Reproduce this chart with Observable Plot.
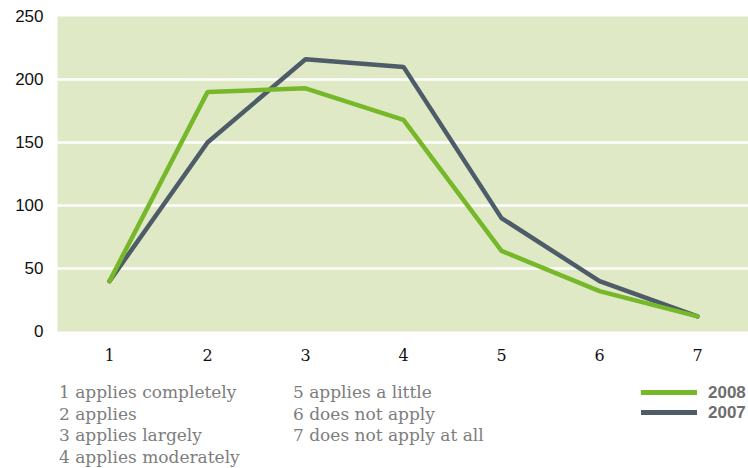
<!DOCTYPE html>
<html>
<head>
<meta charset="utf-8">
<script src="https://cdn.jsdelivr.net/npm/d3@7"></script>
<script src="https://cdn.jsdelivr.net/npm/@observablehq/plot@0.6"></script>
<style>
  html, body { margin: 0; padding: 0; background: #fff; }
  #wrap { position: relative; width: 748px; height: 468px; overflow: hidden; font-family: "DejaVu Serif", serif; }
  #chart svg { display: block; }
  .col { position: absolute; top: 382px; color: #7d7d7d; font-size: 17px; line-height: 21.6px; white-space: nowrap; }
  .leg { position: absolute; left: 641px; color: #6e6e6e; font-weight: bold; font-size: 17px; font-family: "Liberation Sans", Arial, sans-serif; white-space: nowrap; line-height: 20px; }
  .leg span { display: inline-block; width: 56px; height: 5px; vertical-align: middle; margin-right: 11px; position: relative; top: -1px; }
</style>
</head>
<body>
<div id="wrap">
  <div id="chart"></div>
  <div class="col" id="col1" style="left:59px"></div>
  <div class="col" id="col2" style="left:293px"></div>
  <div id="legend"></div>
</div>
<script>
const categories = [1, 2, 3, 4, 5, 6, 7];
const values2008 = [40, 190, 193, 168, 64, 32, 12];
const values2007 = [40, 150, 216, 210, 90, 40, 12];
const yTicks = [0, 50, 100, 150, 200, 250];
const descriptions = ["1 applies completely", "2 applies", "3 applies largely", "4 applies moderately",
                      "5 applies a little", "6 does not apply", "7 does not apply at all"];
const seriesNames = ["2008", "2007"];
const seriesColors = ["#76b82a", "#4e5b68"];

const rows = [];
categories.forEach((c, i) => rows.push({x: c, y: values2008[i], s: "2008"}));
categories.forEach((c, i) => rows.push({x: c, y: values2007[i], s: "2007"}));

const plot = Plot.plot({
  width: 748,
  height: 370,
  marginLeft: 57,
  marginRight: 0,
  marginTop: 16,
  marginBottom: 39,
  style: {fontFamily: "DejaVu Serif, serif", fontSize: "15px", color: "#111", background: "transparent"},
  x: {type: "point", domain: categories, padding: 0.5, label: null},
  y: {domain: [0, 250], label: null},
  color: {domain: seriesNames, range: seriesColors},
  marks: [
    Plot.frame({fill: "#dfe9c6", stroke: null}),
    Plot.gridY(yTicks.filter(t => t > 0 && t < 250), {stroke: "#fff", strokeOpacity: 1, strokeWidth: 2.5}),
    Plot.line(rows.filter(d => d.s === "2007"), {x: "x", y: "y", stroke: "s", strokeWidth: 4.5, strokeLinejoin: "miter"}),
    Plot.line(rows.filter(d => d.s === "2008"), {x: "x", y: "y", stroke: "s", strokeWidth: 4.5, strokeLinejoin: "miter"}),
    Plot.axisX({tickSize: 0, tickPadding: 18, fontSize: 16, fill: "#111"}),
    Plot.axisY({ticks: yTicks, tickSize: 0, tickPadding: 14, fontSize: 17, fontFamily: "Liberation Sans, Arial, sans-serif", fill: "#111"})
  ]
});
document.getElementById("chart").appendChild(plot);

document.getElementById("col1").innerHTML = descriptions.slice(0, 4).join("<br>");
document.getElementById("col2").innerHTML = descriptions.slice(4).join("<br>");
const legend = document.getElementById("legend");
seriesNames.forEach((n, i) => {
  const d = document.createElement("div");
  d.className = "leg";
  d.style.top = (383 + i * 20) + "px";
  d.innerHTML = `<span style="background:${seriesColors[i]}"></span>${n}`;
  legend.appendChild(d);
});
</script>
</body>
</html>
